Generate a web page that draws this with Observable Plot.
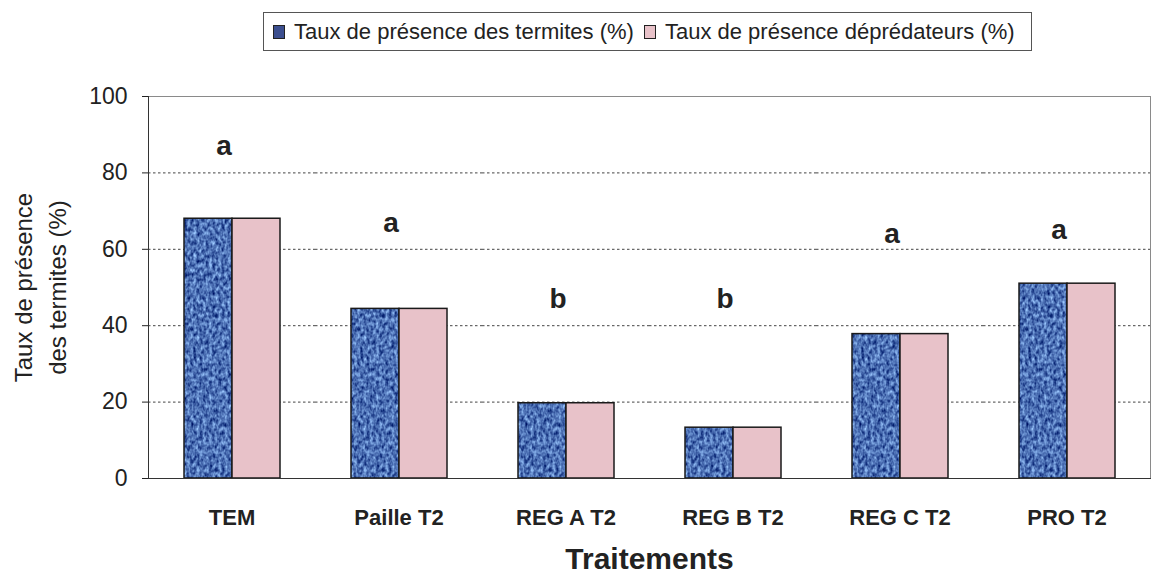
<!DOCTYPE html>
<html>
<head>
<meta charset="utf-8">
<script src="https://cdn.jsdelivr.net/npm/d3@7"></script>
<script src="https://cdn.jsdelivr.net/npm/@observablehq/plot@0.6"></script>
<style>
  html, body { margin: 0; padding: 0; background: #fff; }
  body { width: 1155px; height: 586px; position: relative; overflow: hidden; font-family: "Liberation Sans", Arial, sans-serif; }
  #legend { position: absolute; left: 263px; top: 12px; width: 769px; height: 39px; box-sizing: border-box;
            border: 1px solid #555; display: flex; align-items: center; padding-left: 9px;
            font-size: 22px; color: #222; background: #fff; z-index: 2; white-space: nowrap; }
  #legend .sw { width: 10px; height: 12px; border: 1px solid #222; display: inline-block; margin-right: 9px; }
  #legend .item { display: flex; align-items: center; margin-right: 10px; }
  #chart { position: absolute; left: 0; top: 0; }
</style>
</head>
<body>
<svg width="0" height="0" style="position:absolute">
  <defs>
    <filter id="mottle" x="0" y="0" width="100%" height="100%" color-interpolation-filters="sRGB">
      <feTurbulence type="fractalNoise" baseFrequency="0.32 0.22" numOctaves="2" seed="4"/>
      <feColorMatrix type="matrix" values="0.9 0 0 0 -0.15  1.0 0 0 0 -0.06  0.85 0 0 0 0.28  0 0 0 0 1"/>
    </filter>
    <pattern id="bluetex" patternUnits="userSpaceOnUse" width="400" height="500">
      <rect width="400" height="500" filter="url(#mottle)"/>
    </pattern>
  </defs>
</svg>
<div id="legend"></div>
<div id="chart"></div>
<script>
// ---- data ----
const categories = ["TEM", "Paille T2", "REG A T2", "REG B T2", "REG C T2", "PRO T2"];
const termites   = [68, 44.4, 19.7, 13.3, 37.8, 51];
const predateurs = [68, 44.4, 19.7, 13.3, 37.8, 51];
const letters    = ["a", "a", "b", "b", "a", "a"];
const letterY    = [87, 67, 47, 47, 64, 65];
const seriesKeys = ["termites", "predateurs"];
const seriesNames = ["Taux de présence des termites (%)", "Taux de présence déprédateurs (%)"];
const yTicks = [0, 20, 40, 60, 80, 100];
const gridTicks = [20, 40, 60, 80];
const yLabel = "Taux de présence\ndes termites (%)";
const xLabel = "Traitements";

const data = categories.flatMap((c, i) => [
  {cat: c, serie: "termites", value: termites[i]},
  {cat: c, serie: "predateurs", value: predateurs[i]}
]);
const letterData = categories.map((c, i) => ({cat: c, letter: letters[i], y: letterY[i]}));

// legend
const legendColors = ["#3c4f8f", "#e8c2c9"];
const legend = document.getElementById("legend");
seriesNames.forEach((name, i) => {
  const item = document.createElement("span");
  item.className = "item";
  const sw = document.createElement("span");
  sw.className = "sw";
  sw.style.background = legendColors[i];
  item.appendChild(sw);
  item.appendChild(document.createTextNode(name));
  legend.appendChild(item);
});

const chart = Plot.plot({
  width: 1155,
  height: 586,
  marginTop: 96,
  marginBottom: 108,
  marginLeft: 148,
  marginRight: 5,
  style: {fontFamily: "'Liberation Sans', Arial, sans-serif", color: "#222", background: "transparent"},
  fx: {domain: categories, padding: 0, label: null, axis: null},
  x: {domain: seriesKeys, paddingInner: 0, paddingOuter: 0.72, axis: null},
  y: {domain: [0, 100], label: null, axis: null},
  color: {domain: seriesKeys, range: ["url(#bluetex)", "#e8c2c9"]},
  marks: [
    Plot.ruleY(gridTicks, {stroke: "#444", strokeDasharray: "2.5,2.5", strokeWidth: 1}),
    Plot.barY(data, {fx: "cat", x: "serie", y: "value", fill: "serie", stroke: "#1a1a1a", strokeWidth: 1.5}),
    Plot.frame({facet: "super", stroke: "#8a8a8a"}),
    Plot.frame({facet: "super", anchor: "left", stroke: "#333"}),
    Plot.frame({facet: "super", anchor: "bottom", stroke: "#333"}),
    Plot.axisY(yTicks, {anchor: "left", tickSize: 6, tickPadding: 15, fontSize: 23, label: null}),
    Plot.axisFx({anchor: "bottom", tickSize: 0, tickPadding: 31, fontSize: 22, fontWeight: "bold", label: null}),
    Plot.text(letterData, {fx: "cat", y: "y", text: "letter", fontSize: 28, fontWeight: "bold", dx: -8}),
    Plot.text([yLabel], {facet: "super", frameAnchor: "left", textAnchor: "middle", rotate: -90, dx: -110, fontSize: 24, lineHeight: 1.4}),
    Plot.text([xLabel], {facet: "super", frameAnchor: "bottom", dy: 90, fontSize: 30, fontWeight: "bold"})
  ]
});
document.getElementById("chart").appendChild(chart);
</script>
</body>
</html>
